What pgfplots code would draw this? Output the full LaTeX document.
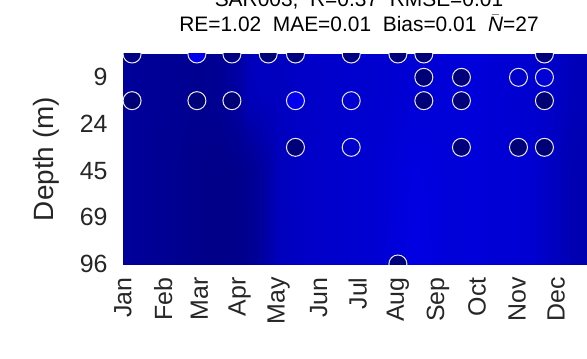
\documentclass[border=0pt]{standalone}
\usepackage{pgfplots}
\pgfplotsset{compat=1.18}
\usepackage{fontspec}
\setmainfont{Liberation Sans}
\definecolor{tickgray}{gray}{0.15}
\begin{document}
\begin{tikzpicture}
\begin{axis}[name=ax, at={(0,0)}, anchor=south west,
  scale only axis, width=472bp, height=210bp,
  xmin=1, xmax=365, ymin=-9, ymax=0,
  axis line style={draw=none}, major tick length=0pt,
  xtick={1,32,60,91,121,152,182,213,244,274,305,335},
  xticklabels={Jan,Feb,Mar,Apr,May,Jun,Jul,Aug,Sep,Oct,Nov,Dec},
  ytick={-9,-7,-5,-3,-1}, yticklabels={96,69,45,24,9},
  tick label style={font=\fontsize{25}{30}\selectfont, text=tickgray},
  xticklabel style={rotate=90, anchor=east},
  xticklabel shift=10bp, yticklabel shift=12bp,
  colormap={deep}{rgb255(0cm)=(0,0,100); rgb255(1cm)=(0,0,245)},
  point meta min=0, point meta max=1,
  clip=true, clip marker paths=true,
]
\addplot[surf, shader=interp, mesh/cols=26, point meta=explicit] table[x=d, y=r, meta=v]{
d r v
1 0 .38
15 0 .36
30 0 .34
45 0 .32
60 0 .30
75 0 .33
90 0 .45
100 0 .62
110 0 .66
120 0 .62
135 0 .68
150 0 .70
165 0 .72
180 0 .74
195 0 .74
210 0 .76
225 0 .78
240 0 .78
255 0 .80
270 0 .82
285 0 .78
300 0 .76
315 0 .74
330 0 .70
345 0 .60
365 0 .55

1 -2 .38
15 -2 .36
30 -2 .34
45 -2 .32
60 -2 .30
75 -2 .32
90 -2 .43
100 -2 .58
110 -2 .62
120 -2 .62
135 -2 .68
150 -2 .70
165 -2 .72
180 -2 .74
195 -2 .74
210 -2 .76
225 -2 .79
240 -2 .79
255 -2 .80
270 -2 .82
285 -2 .78
300 -2 .76
315 -2 .74
330 -2 .70
345 -2 .60
365 -2 .55

1 -3.5 .38
15 -3.5 .36
30 -3.5 .33
45 -3.5 .31
60 -3.5 .28
75 -3.5 .28
90 -3.5 .34
100 -3.5 .44
110 -3.5 .52
120 -3.5 .61
135 -3.5 .67
150 -3.5 .70
165 -3.5 .72
180 -3.5 .74
195 -3.5 .75
210 -3.5 .78
225 -3.5 .82
240 -3.5 .81
255 -3.5 .80
270 -3.5 .82
285 -3.5 .78
300 -3.5 .77
315 -3.5 .75
330 -3.5 .68
345 -3.5 .57
365 -3.5 .52

1 -5 .38
15 -5 .36
30 -5 .33
45 -5 .30
60 -5 .27
75 -5 .25
90 -5 .27
100 -5 .32
110 -5 .42
120 -5 .60
135 -5 .66
150 -5 .70
165 -5 .72
180 -5 .74
195 -5 .76
210 -5 .80
225 -5 .86
240 -5 .84
255 -5 .80
270 -5 .82
285 -5 .78
300 -5 .78
315 -5 .76
330 -5 .66
345 -5 .55
365 -5 .50

1 -9 .38
15 -9 .36
30 -9 .33
45 -9 .30
60 -9 .27
75 -9 .25
90 -9 .27
100 -9 .32
110 -9 .42
120 -9 .60
135 -9 .66
150 -9 .70
165 -9 .72
180 -9 .74
195 -9 .76
210 -9 .82
225 -9 .88
240 -9 .85
255 -9 .80
270 -9 .82
285 -9 .78
300 -9 .78
315 -9 .76
330 -9 .66
345 -9 .55
365 -9 .50
};
\addplot[scatter, only marks, mark=*, mark size=9bp, point meta=explicit,
  scatter/use mapped color={draw=white!92!black, fill=mapped color},
  mark options={line width=1bp}] table[x=d, y=r, meta=v]{
d r v
8 0 .22
58 0 .95
85 0 .20
113 0 .16
134 0 .18
177 0 .22
213 0 .16
233 0 .16
326 0 .16
233 -1 .12
262 -1 .16
306 -1 .72
326 -1 .78
8 -2 .12
58 -2 .16
85 -2 .12
134 -2 .95
177 -2 .74
233 -2 .14
262 -2 .16
326 -2 .10
134 -4 .16
177 -4 .72
262 -4 .16
306 -4 .14
326 -4 .12
213 -9 .16
};
\end{axis}
\node[anchor=base, font=\fontsize{21}{25}\selectfont] at ([yshift=22bp]ax.north) {RE=1.02\ \ MAE=0.01\ \ Bias=0.01\ \ $\bar{\mbox{\itshape N}}$=27};
\node[anchor=base, font=\fontsize{21}{25}\selectfont] at ([yshift=47bp]ax.north) {SAR003,\ \ R=0.37\ \ RMSE=0.01};
\node[rotate=90, font=\fontsize{28}{33}\selectfont, text=tickgray] at ([xshift=-77bp]ax.west) {Depth (m)};
\pgfresetboundingbox
\useasboundingbox (-123bp,-95bp) rectangle (464bp,264bp);
\end{tikzpicture}
\end{document}
